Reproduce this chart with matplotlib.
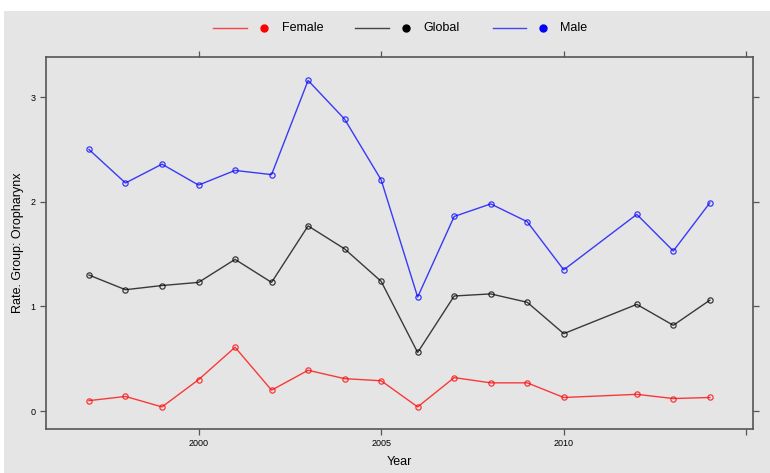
import matplotlib

matplotlib.use("Agg")
import matplotlib.pyplot as plt
from matplotlib.lines import Line2D
from matplotlib.patches import Rectangle

plt.rcParams["font.family"] = ["Liberation Sans", "DejaVu Sans"]

years = [1997, 1998, 1999, 2000, 2001, 2002, 2003, 2004, 2005,
         2006, 2007, 2008, 2009, 2010, 2012, 2013, 2014]
female = [0.10, 0.14, 0.04, 0.30, 0.61, 0.20, 0.39, 0.31, 0.29,
          0.04, 0.32, 0.27, 0.27, 0.13, 0.16, 0.12, 0.13]
global_rate = [1.30, 1.16, 1.20, 1.23, 1.45, 1.23, 1.77, 1.55, 1.24,
               0.56, 1.10, 1.12, 1.04, 0.74, 1.02, 0.82, 1.06]
male = [2.50, 2.18, 2.36, 2.16, 2.30, 2.26, 3.16, 2.79, 2.21,
        1.09, 1.86, 1.98, 1.81, 1.35, 1.88, 1.53, 1.99]

series = [("Female", female, "#ff0000"),
          ("Global", global_rate, "#000000"),
          ("Male", male, "#0000ff")]

xticks = [2000, 2005, 2010, 2015]
xticklabels = ["2000", "2005", "2010", ""]  # lattice leaves the last tick unlabelled
yticks = [0, 1, 2, 3]

W, H = 770, 473
BG = "#e5e5e5"
BOX = "#555555"

fig = plt.figure(figsize=(W / 100, H / 100), dpi=100, facecolor="white")
fig.patches.append(Rectangle((4 / W, 0), 1, (H - 11) / H, transform=fig.transFigure,
                             facecolor=BG, edgecolor="none", zorder=-10))

left, right, top, bottom = 45.5, 753.3, 57, 429.3
ax = fig.add_axes([left / W, 1 - bottom / H, (right - left) / W, (bottom - top) / H])
ax.set_facecolor(BG)

for name, vals, col in series:
    ax.plot(years, vals, color=col, lw=1.0, alpha=0.75, marker="o", ms=3.8,
            mfc="none", mec=col, mew=0.9)

ax.set_xlim(1995.81, 2015.19)
ax.set_ylim(-0.174, 3.384)
ax.set_xticks(xticks, xticklabels)
ax.set_yticks(yticks)
ax.tick_params(direction="out", length=4, width=0.9, color=BOX, labelsize=6.5,
               top=True, right=True, labeltop=False, labelright=False, pad=3)
for s in ax.spines.values():
    s.set_color(BOX)
    s.set_linewidth(1.2)

ax.set_xlabel("Year", fontsize=9, labelpad=6)
ax.set_ylabel("Rate. Group: Oropharynx", fontsize=9, labelpad=5)

# legend across the top
ly = 1 - 28.3 / H
legend_x = [(213, 247, 264, 282), (355, 389, 406, 423), (493, 526, 543, 560)]
for (name, vals, col), (x0, x1, xd, xt) in zip(series, legend_x):
    fig.add_artist(Line2D([x0 / W, x1 / W], [ly, ly], color=col, lw=1.0, alpha=0.7,
                          transform=fig.transFigure))
    fig.add_artist(Line2D([xd / W], [ly], marker="o", ms=5, color=col, mec=col,
                          transform=fig.transFigure))
    fig.text(xt / W, ly, name, fontsize=9, va="center", ha="left")

fig.savefig("out.png", dpi=100, facecolor="white")
